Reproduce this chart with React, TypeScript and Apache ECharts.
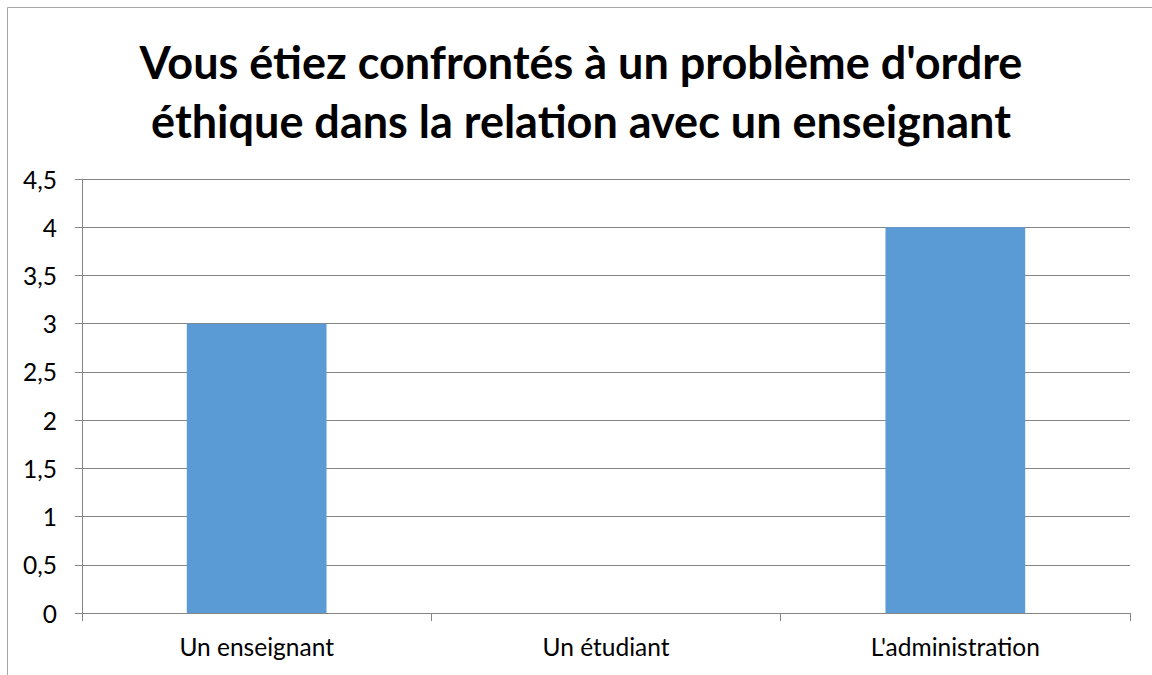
import React, { useEffect, useRef } from "react";
import * as echarts from "echarts";

const titleLines = [
  "Vous étiez confrontés à un problème d'ordre",
  "éthique dans la relation avec un enseignant",
];
const categories = ["Un enseignant", "Un étudiant", "L'administration"];
const values = [3, 0, 4];
const yMin = 0;
const yMax = 4.5;
const yStep = 0.5;

export default function App() {
  const ref = useRef<HTMLDivElement>(null);
  useEffect(() => {
    if (!ref.current) return;
    const chart = echarts.init(ref.current, null, { renderer: "svg" });
    const font = "Lato, Carlito, Calibri, sans-serif";
    chart.setOption({
      animation: false,
      backgroundColor: "#ffffff",
      graphic: [
        {
          type: "rect",
          shape: { x: 7.5, y: 7.5, width: 1300, height: 800 },
          style: { fill: "none", stroke: "#a6a6a6", lineWidth: 1 },
          silent: true,
        },
        {
          type: "text",
          x: 581,
          y: 62,
          style: {
            text: titleLines[0],
            font: `bold 45px ${font}`,
            fill: "#000000",
            textAlign: "center",
            textVerticalAlign: "middle",
          },
        },
        {
          type: "text",
          x: 581,
          y: 121,
          style: {
            text: titleLines[1],
            font: `bold 45px ${font}`,
            fill: "#000000",
            textAlign: "center",
            textVerticalAlign: "middle",
          },
        },
      ],
      grid: { left: 82, right: 22, top: 179, bottom: 62, containLabel: false },
      xAxis: {
        type: "category",
        data: categories,
        boundaryGap: true,
        axisLine: { show: true, lineStyle: { color: "#868686", width: 1 } },
        axisTick: { show: true, length: 8, alignWithLabel: false, lineStyle: { color: "#868686" } },
        axisLabel: { color: "#000000", fontSize: 24.5, fontFamily: font, margin: 21 },
        splitLine: { show: false },
      },
      yAxis: {
        type: "value",
        min: yMin,
        max: yMax,
        interval: yStep,
        axisLine: { show: true, lineStyle: { color: "#868686", width: 1 } },
        axisTick: { show: true, length: 7, lineStyle: { color: "#868686" } },
        axisLabel: {
          color: "#000000",
          fontSize: 24.5,
          fontFamily: font,
          margin: 25,
          formatter: (v: number) => String(v).replace(".", ","),
        },
        splitLine: { show: true, lineStyle: { color: "#868686", width: 1 } },
      },
      series: [
        {
          type: "bar",
          data: values,
          barWidth: "40%",
          itemStyle: { color: "#5b9bd5" },
        },
      ],
    });
    return () => chart.dispose();
  }, []);
  return (
    <div
      ref={ref}
      style={{ position: "absolute", left: 0, top: 0, width: 1152, height: 675, overflow: "hidden" }}
    />
  );
}
